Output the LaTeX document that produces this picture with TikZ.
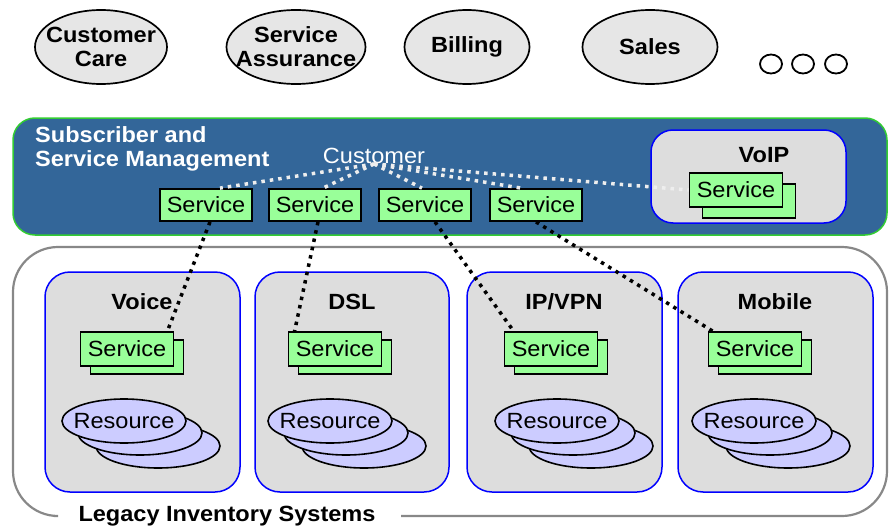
\documentclass[tikz,border=0pt]{standalone}
\usepackage{fontspec}
\setmainfont[FakeStretch=1.07]{Liberation Sans}
\usetikzlibrary{shapes.geometric,calc}

\definecolor{bandblue}{HTML}{336699}
\definecolor{bandgreen}{HTML}{33CC33}
\definecolor{taskgray}{HTML}{E6E6E6}
\definecolor{boxgray}{HTML}{DDDDDD}
\definecolor{svcgreen}{HTML}{99FF99}
\definecolor{reslilac}{HTML}{CCCCFF}
\definecolor{legacygray}{HTML}{888888}
\definecolor{linkwhite}{HTML}{EEEEEE}

\begin{document}
\begin{tikzpicture}[x=1pt,y=-1pt]
		% Define styles for the boxes, stacks and dotted links
		\tikzset{
			task/.style={ellipse, draw=black, line width=1.7pt, fill=taskgray, inner xsep=-30pt, inner ysep=0pt, minimum height=74pt, align=center, font=\bfseries\fontsize{22}{24}\selectfont},
			more/.style={ellipse, draw=black, line width=1.8pt, inner sep=0pt, minimum width=22pt, minimum height=19pt},
			group/.style={draw=blue, line width=1.5pt, fill=boxgray, rounded corners=25pt},
			title/.style={font=\bfseries\fontsize{22}{24}\selectfont},
			svc/.style={draw=black, line width=1.8pt, fill=svcgreen, inner sep=0pt, minimum width=92pt, minimum height=32pt, font=\fontsize{22}{24}\selectfont},
			res/.style={ellipse, draw=black, line width=1.6pt, fill=reslilac, inner xsep=-20pt, inner ysep=0pt, minimum width=124pt, minimum height=44pt, font=\fontsize{22}{24}\selectfont},
			wlink/.style={draw=linkwhite, line width=3.5pt, dash pattern=on 3.5pt off 5pt},
			blink/.style={draw=black, line width=3.5pt, dash pattern=on 3.5pt off 5pt}
		}
		\useasboundingbox (0,0) rectangle (889,527);
		
		% Business processes on top
		\node[task, minimum width=132pt] (care) at (101,47) {Customer\\Care};
		\node[task, minimum width=139pt] (assure) at (296,47) {Service\\Assurance};
		\node[task, minimum width=125pt] (billing) at (467,47) {Billing};
		\node[task, minimum width=135pt] (sales) at (650,47) {Sales};
		\node[more] (m1) at (771,64) {};
		\node[more] (m2) at (803,64) {};
		\node[more] (m3) at (836,64) {};
		
		% Subscriber and service management band
		\draw[fill=bandblue, draw=bandgreen, line width=1.5pt, rounded corners=22pt] (13,118) rectangle (887,235);
		\node[anchor=north west, align=left, inner sep=0pt, text=white, font=\bfseries\fontsize{22}{24}\selectfont] (ssm) at (35,126) {Subscriber and\\Service Management};
		\node[inner sep=0pt, text=white, font=\fontsize{22}{24}\selectfont] (cust) at (374,156) {Customer};
		
		% VoIP box inside the band
		\draw[group, rounded corners=22pt] (651,130) rectangle (846,223);
		\node[title] (voip) at (764,155) {VoIP};
		\node[svc, minimum width=93pt, minimum height=34pt] (voipback) at (749,201) {};
		\node[svc, minimum width=93pt, minimum height=34pt] (voipsvc) at (736,190) {Service};
		
		% Services of the customer
		\node[svc] (s1) at (206,205) {Service};
		\node[svc] (s2) at (315,205) {Service};
		\node[svc] (s3) at (425,205) {Service};
		\node[svc] (s4) at (536,205) {Service};
		
		% Legacy inventory systems, border broken by its label
		\node[title] (legacy) at (227,516) {Legacy Inventory Systems};
		\draw[legacygray, line width=2.2pt, rounded corners=45pt] ($(legacy.east)+(22,0)$) -| (887,247) -| (13,516) -- ($(legacy.west)+(-21,0)$);
		
		% Voice
		\draw[group] (45,272) rectangle (240,492);
		\node[title] (voice) at (142,302) {Voice};
		\node[svc, minimum width=93pt, minimum height=34pt] (voiceback) at (137,357) {};
		\node[svc, minimum width=93pt, minimum height=34pt] (voicesvc) at (127,349) {Service};
		\node[res] (voicer3) at (158,446) {};
		\node[res] (voicer2) at (140,433) {};
		\node[res] (voicer1) at (124,421) {Resource};
		
		% DSL
		\draw[group] (255,272) rectangle (449,492);
		\node[title] (dsl) at (352,302) {DSL};
		\node[svc, minimum width=93pt, minimum height=34pt] (dslback) at (345,357) {};
		\node[svc, minimum width=93pt, minimum height=34pt] (dslsvc) at (335,349) {Service};
		\node[res] (dslr3) at (364,446) {};
		\node[res] (dslr2) at (346,433) {};
		\node[res] (dslr1) at (330,421) {Resource};
		
		% IP/VPN
		\draw[group] (467,272) rectangle (662,492);
		\node[title] (ipvpn) at (564,302) {IP/VPN};
		\node[svc, minimum width=93pt, minimum height=34pt] (ipback) at (561,357) {};
		\node[svc, minimum width=93pt, minimum height=34pt] (ipsvc) at (551,349) {Service};
		\node[res] (ipr3) at (591,446) {};
		\node[res] (ipr2) at (573,433) {};
		\node[res] (ipr1) at (557,421) {Resource};
		
		% Mobile
		\draw[group] (678,272) rectangle (873,492);
		\node[title] (mobile) at (775,302) {Mobile};
		\node[svc, minimum width=93pt, minimum height=34pt] (mobback) at (765,357) {};
		\node[svc, minimum width=93pt, minimum height=34pt] (mobsvc) at (755,349) {Service};
		\node[res] (mobr3) at (788,446) {};
		\node[res] (mobr2) at (770,433) {};
		\node[res] (mobr1) at (754,421) {Resource};
		
		% Customer to its services
		\draw[wlink] (cust.south) -- ($(s1.north)+(14,0)$);
		\draw[wlink] (cust.south) -- ($(s2.north)+(8,0)$);
		\draw[wlink] (cust.south) -- ($(s3.north)+(-3,0)$);
		\draw[wlink] (cust.south) -- ($(s4.north)+(-15,0)$);
		\draw[wlink] (cust.south) -- (voipsvc.west);
		
		% Services down to the legacy systems
		\draw[blink] ($(s1.south)+(4,0)$) -- ($(voicesvc.north east)+(-7,0)$);
		\draw[blink] ($(s2.south)+(3,0)$) -- ($(dslsvc.north west)+(7,0)$);
		\draw[blink] ($(s3.south)+(10,0)$) -- ($(ipsvc.north west)+(10,0)$);
		\draw[blink] (s4.south) -- ($(mobsvc.north west)+(5,0)$);
	\end{tikzpicture}
\end{document}
